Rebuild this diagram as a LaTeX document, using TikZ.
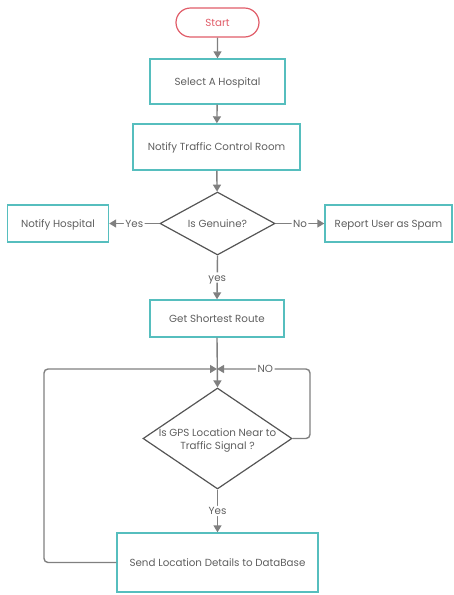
\documentclass[tikz,border=0pt]{standalone}
\usepackage{fontspec}
\setmainfont{Poppins}
\usetikzlibrary{arrows.meta,shapes.geometric,shapes.misc}
\definecolor{teal1}{RGB}{86,190,190}
\definecolor{redA}{RGB}{224,92,104}
\definecolor{lineg}{RGB}{128,128,128}
\definecolor{txtg}{RGB}{95,95,95}
\definecolor{diag}{RGB}{85,85,85}
\begin{document}
\begin{tikzpicture}[x=1pt,y=-1pt,
  every node/.style={font=\fontsize{10.3}{13}\selectfont, text=txtg},
  oneline/.style={text height=7.2pt, text depth=0pt},
  procbox/.style={draw=teal1, line width=1.4pt, rectangle, inner sep=0pt, oneline},
  decbox/.style={draw=diag, line width=1.2pt, diamond, inner sep=0pt},
  conn/.style={draw=lineg, line width=1.4pt, -{Triangle[width=8pt,length=7pt]}, rounded corners=4pt},
  lab/.style={fill=white, inner sep=1.5pt, oneline, font=\fontsize{10.3}{13}\selectfont, text=txtg}]
\useasboundingbox (0,0) rectangle (453,595);
\node[draw=redA, line width=1.2pt, rounded rectangle, minimum width=83pt, minimum height=29pt, inner sep=0pt, oneline, text=redA] (start) at (217.5,22.5) {Start};
\node[procbox, minimum width=135pt, minimum height=45pt] (b1) at (217.5,81.5) {Select A Hospital};
\node[procbox, minimum width=167pt, minimum height=46pt] (b2) at (216.5,147) {Notify Traffic Control Room};
\node[decbox, minimum width=115pt, minimum height=63pt] (d1) at (217.5,223.5) {};
\node[oneline] (d1t) at (d1.center) {Is Genuine?};
\node[procbox, minimum width=101pt, minimum height=37pt] (nh) at (58,223.5) {Notify Hospital};
\node[procbox, minimum width=127pt, minimum height=37pt] (rs) at (388.5,223.5) {Report User as Spam};
\node[procbox, minimum width=134pt, minimum height=37pt] (gsr) at (217,318.5) {Get Shortest Route};
\coordinate (j) at (217,369);
\node[decbox, minimum width=149pt, minimum height=101pt] (d2) at (217.5,438.5) {};
\node[align=center, inner sep=0pt, yshift=-2pt] (d2t) at (d2.center) {Is GPS Location Near to\\Traffic Signal ?};
\node[procbox, minimum width=201pt, minimum height=59pt] (send) at (217.5,562.5) {Send Location Details to DataBase};
\coordinate (l1) at (44,562.5);
\coordinate (l2) at (44,369);
\coordinate (r1) at (310,438.5);
\coordinate (r2) at (310,369);

\draw[conn] (start) -- (b1);
\draw[conn] (b1) -- (b2);
\draw[conn] (b2) -- (d1);
\draw[conn] (d1.west) -- node[lab]{Yes} (nh.east);
\draw[conn] (d1.east) -- node[lab]{No} (rs.west);
\draw[conn] (d1.south) -- node[lab]{yes} (gsr.north);
\draw[conn] (gsr.south) -- (d2.north);
\draw[conn] (send.west) -- (l1) -- (l2) -- (j);
\draw[conn] (d2.east) -- (r1) -- (r2) -- node[lab, pos=0.48]{NO} (j);
\draw[conn] (d2.south) -- node[lab]{Yes} (send.north);
\end{tikzpicture}
\end{document}
